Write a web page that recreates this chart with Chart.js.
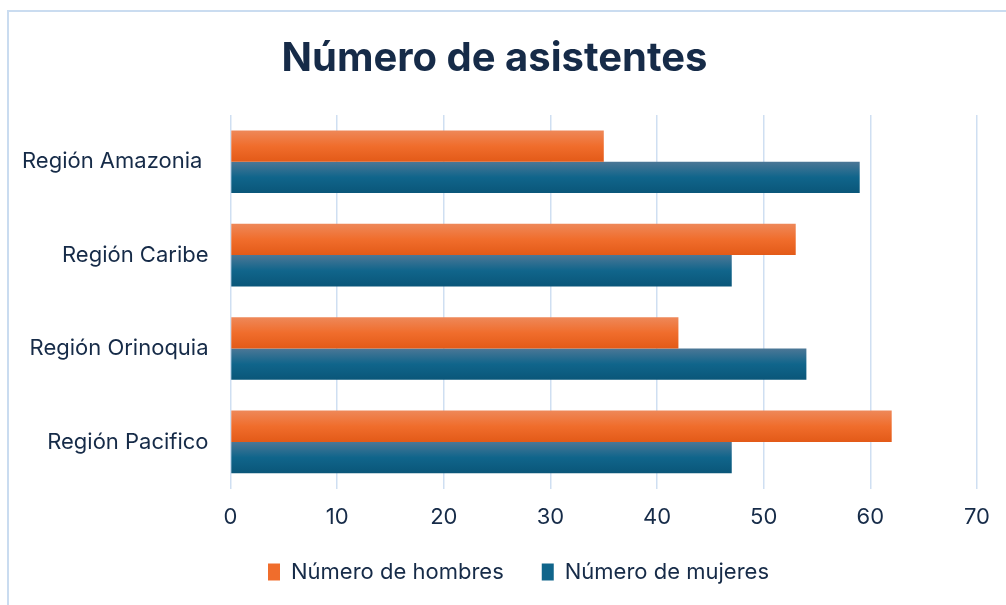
<!DOCTYPE html>
<html>
<head>
<meta charset="utf-8">
<script src="https://cdn.jsdelivr.net/npm/chart.js@4"></script>
<style>
  html, body { margin: 0; padding: 0; background: #fff; overflow: hidden; }
  #frame { position: absolute; left: 7px; top: 10px; width: 1010px; height: 610px; border: 2px solid #cadcf0; box-sizing: border-box; }
  #wrap { position: absolute; left: 0; top: 0; width: 1006px; height: 605px; }
</style>
</head>
<body>
<div id="frame"></div>
<div id="wrap"><canvas id="chart"></canvas></div>
<script>
// data
const regions = ['Región Amazonia ', 'Región Caribe', 'Región Orinoquia', 'Región Pacifico'];
const hombres = [35, 53, 42, 62];
const mujeres = [59, 47, 54, 47];
const xTicks = [0, 10, 20, 30, 40, 50, 60, 70];

const navy = '#162b48';
const FONT = 'Inter, "Noto Sans", sans-serif';
const baseColors = ['#f06d2c', '#10658b'];

// vertical gradient fill for each bar, built once the bars have positions
const gradientBars = {
  id: 'gradientBars',
  beforeDatasetsDraw(chart) {
    const ctx = chart.ctx;
    const stops = [
      ['#ee8859', '#f06d2c', '#e35a18'],
      ['#4c7796', '#10658b', '#0a5679']
    ];
    chart.data.datasets.forEach((ds, i) => {
      chart.getDatasetMeta(i).data.forEach(bar => {
        const top = bar.y - bar.height / 2;
        const g = ctx.createLinearGradient(0, top, 0, top + bar.height);
        g.addColorStop(0, stops[i][0]);
        g.addColorStop(0.5, stops[i][1]);
        g.addColorStop(1, stops[i][2]);
        bar.options.backgroundColor = g;
      });
    });
  }
};

// legend sits centred under the plot area, like the original
const legendShift = {
  id: 'legendShift',
  afterLayout(chart) {
    const lg = chart.legend;
    const dx = 24, dy = -24;
    lg.left += dx; lg.right += dx;
    lg.top += dy; lg.bottom += dy;
  }
};

new Chart(document.getElementById('chart'), {
  type: 'bar',
  data: {
    labels: regions,
    datasets: [
      { label: 'Número de hombres', data: hombres },
      { label: 'Número de mujeres', data: mujeres }
    ]
  },
  options: {
    indexAxis: 'y',
    responsive: true,
    maintainAspectRatio: false,
    animation: false,
    categoryPercentage: 0.67,
    barPercentage: 1,
    // scriptable so every bar keeps its own options object
    backgroundColor: c => baseColors[c.datasetIndex],
    layout: { padding: { left: 0, right: 17, top: 20, bottom: -12 } },
    plugins: {
      title: {
        display: true,
        text: 'Número de asistentes',
        color: navy,
        font: { family: FONT, size: 40, weight: 'bold' },
        padding: { top: 15, bottom: 32 }
      },
      legend: {
        position: 'bottom',
        labels: {
          color: navy,
          font: { family: FONT, size: 22 },
          boxWidth: 12,
          boxHeight: 17,
          padding: 38,
          generateLabels: chart => chart.data.datasets.map((ds, i) => ({
            text: ds.label,
            fillStyle: baseColors[i],
            strokeStyle: baseColors[i],
            lineWidth: 0,
            fontColor: navy,
            datasetIndex: i
          }))
        }
      },
      tooltip: { enabled: false }
    },
    scales: {
      x: {
        min: 0,
        max: 70,
        afterBuildTicks: s => { s.ticks = xTicks.map(v => ({ value: v })); },
        grid: { color: '#cfdff2', lineWidth: 1.5, drawTicks: false },
        border: { display: false },
        ticks: { color: navy, font: { family: FONT, size: 22 }, padding: 16 }
      },
      y: {
        grid: { display: false, drawTicks: false },
        border: { display: false },
        ticks: { color: navy, font: { family: FONT, size: 22 }, padding: 22 }
      }
    }
  },
  plugins: [gradientBars, legendShift]
});
</script>
</body>
</html>
